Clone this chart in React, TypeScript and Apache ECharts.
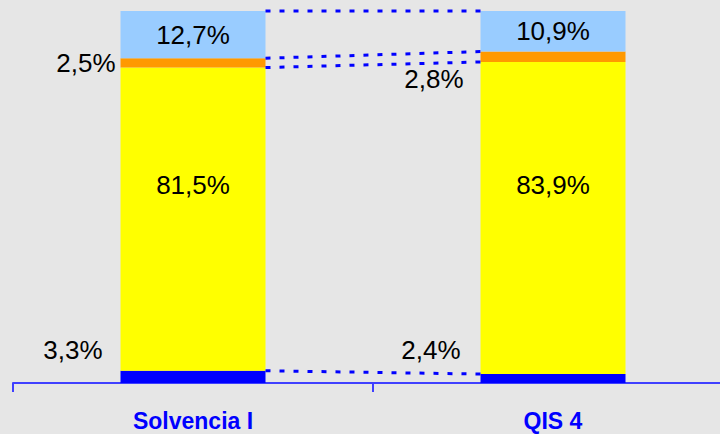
import React, { useEffect, useRef } from "react";
import * as echarts from "echarts";

const categories = ["Solvencia I", "QIS 4"];
const baseValues = [3.3, 2.4];
const mainValues = [81.5, 83.9];
const orangeValues = [2.5, 2.8];
const topValues = [12.7, 10.9];

const BAR_W = 145;
const FONT = "'Liberation Sans', Arial, sans-serif";

const fmt = (p: any) => Number(p.value).toFixed(1).replace(".", ",") + "%";

export default function App() {
  const ref = useRef<HTMLDivElement>(null);
  useEffect(() => {
    if (!ref.current) return;
    const chart = echarts.init(ref.current, undefined, { renderer: "svg" });

    const cum = (i: number, upto: number) => {
      const arrs = [baseValues, mainValues, orangeValues, topValues];
      let s = 0;
      for (let k = 0; k < upto; k++) s += arrs[k][i];
      return s;
    };
    const connectors = [1, 2, 3, 4].map((u) => [0, cum(0, u), cum(1, u)]);

    const labelBase = { show: true, fontSize: 26, color: "#000", fontFamily: FONT, formatter: fmt };

    chart.setOption({
      animation: false,
      backgroundColor: "#E6E6E6",
      grid: { left: 13, top: 11, right: -13, height: 372, outerBoundsMode: "none", containLabel: false },
      xAxis: {
        type: "category",
        data: categories,
        axisLine: { lineStyle: { color: "#4040FF", width: 2 } },
        axisTick: { show: true, length: 9, lineStyle: { color: "#4040FF", width: 2 } },
        axisLabel: { fontSize: 23, fontWeight: "bold", color: "#0000FF", fontFamily: FONT, margin: 26 },
      },
      yAxis: { type: "value", min: 0, max: 100, show: false },
      series: [
        {
          type: "bar",
          stack: "s",
          barWidth: BAR_W,
          itemStyle: { color: "#0000FF" },
          data: [
            { value: baseValues[0], label: { ...labelBase, position: [-18, -21], align: "right", verticalAlign: "middle" } },
            { value: baseValues[1], label: { ...labelBase, position: [-20, -24], align: "right", verticalAlign: "middle" } },
          ],
        },
        {
          type: "bar",
          stack: "s",
          barWidth: BAR_W,
          itemStyle: { color: "#FFFF00" },
          data: [
            { value: mainValues[0], label: { ...labelBase, position: ["50%", 117], align: "center", verticalAlign: "middle" } },
            { value: mainValues[1], label: { ...labelBase, position: ["50%", 123], align: "center", verticalAlign: "middle" } },
          ],
        },
        {
          type: "bar",
          stack: "s",
          barWidth: BAR_W,
          itemStyle: { color: "#FF9900" },
          data: [
            { value: orangeValues[0], label: { ...labelBase, position: "left", distance: 5 } },
            { value: orangeValues[1], label: { ...labelBase, position: [-17, 27], align: "right", verticalAlign: "middle" } },
          ],
        },
        {
          type: "bar",
          stack: "s",
          barWidth: BAR_W,
          itemStyle: { color: "#99CCFF" },
          label: { ...labelBase, position: "inside" },
          data: topValues,
        },
        {
          type: "custom",
          encode: { x: 0, y: 1 },
          z: 5,
          data: connectors,
          renderItem: (params: any, api: any) => {
            const a = api.coord([0, api.value(1)]);
            const b = api.coord([1, api.value(2)]);
            return {
              type: "line",
              shape: { x1: a[0] + BAR_W / 2, y1: a[1], x2: b[0] - BAR_W / 2, y2: b[1] },
              style: { stroke: "#0000FF", lineWidth: 3, lineDash: [5, 9] },
            };
          },
        },
      ],
    });
    return () => chart.dispose();
  }, []);
  return (
    <div
      ref={ref}
      style={{ position: "fixed", left: 0, top: 0, width: 720, height: 434 }}
    />
  );
}
